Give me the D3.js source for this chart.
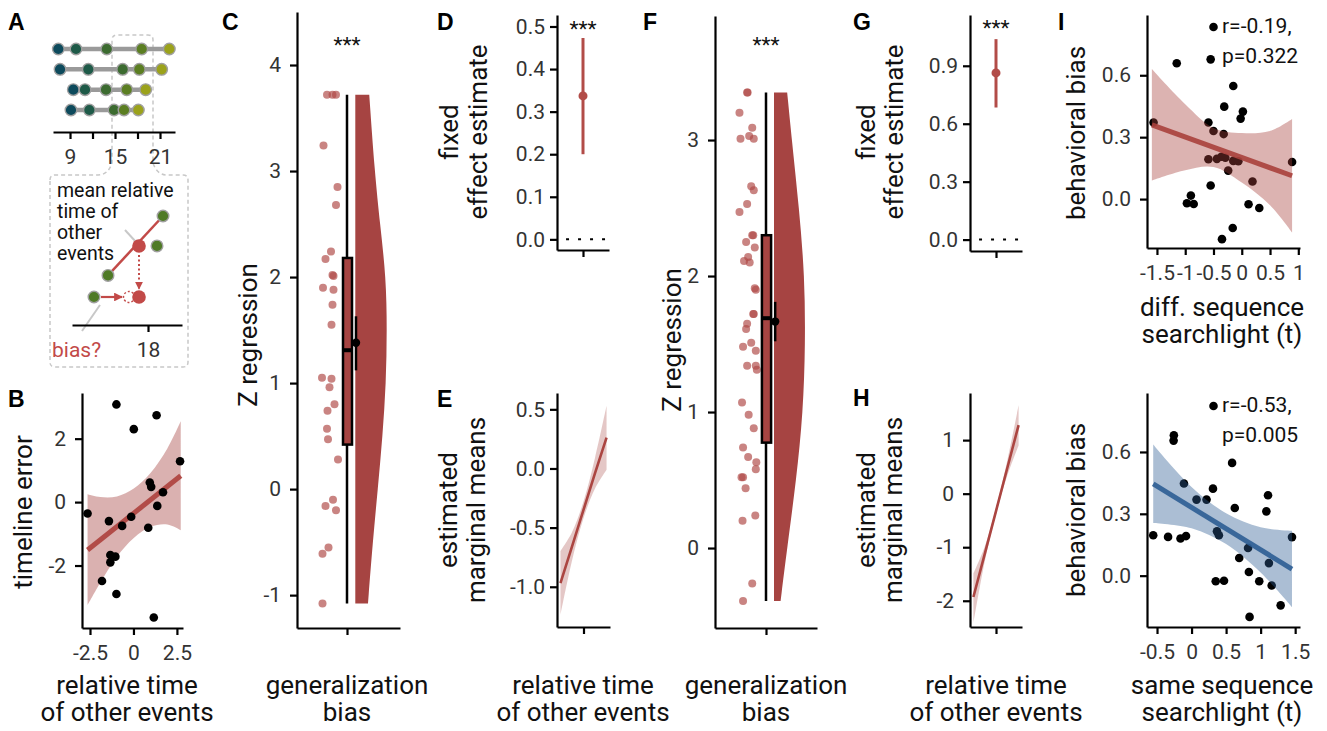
<!DOCTYPE html>
<html>
<head>
<meta charset="utf-8">
<script src="https://cdn.jsdelivr.net/npm/d3@7"></script>
<style>
  body { margin: 0; background: #fff; }
  svg text { font-family: Roboto, sans-serif; }
</style>
</head>
<body>
<svg id="fig" width="1327" height="731"></svg>
<script>
// ---- data ----
// A: event times of four example sequences
const seqTimes = [
  [7.44, 9.8, 13.9, 18.56, 22.24],
  [7.67, 11.44, 16.02, 18.24, 21.22],
  [9.44, 11.0, 13.8, 16.56, 19.09],
  [9.13, 11.58, 14.87, 16.2, 18.11]
];
const seqColors = ['#0d4a5c', '#1e5a48', '#3c6b30', '#5b7e22', '#9ba21b'];
const aTicks = [9, 12, 15, 18, 21];
const aTickLabels = [9, 15, 21];
// schematic (inset)
const schemaOtherT = [12.67, 19.2, 20.0];
const schemaOtherLvl = [0.8, 1.89, 3];
const schemaMeanT = 16.8;
const schemaEventT = 10.8;
const schemaGhostT = 15.47;
const schemaText = ['mean relative', 'time of', 'other', 'events'];

// B: timeline error vs relative time
const bX = [-2.64, -0.98, 1.33, 0.02, 2.68, 0.94, 1.02, 1.70, 1.37, 0.85, -0.13, -0.65, -1.41, -1.33, -1.04, -1.33, -1.81, -0.98, 1.17];
const bY = [-0.36, 3.08, 2.74, 2.30, 1.29, 0.62, 0.48, 0.31, -0.12, -0.81, -0.46, -0.75, -0.60, -1.67, -1.72, -1.90, -2.49, -2.90, -3.64];
const bFitX = [-2.64, 2.72];
const bFitY = [-1.51, 0.83];
const bBandX = [-2.64, -1.91, -0.95, 0.02, 0.98, 1.95, 2.72];
const bBandLo = [-3.25, -2.54, -1.72, -1.13, -0.78, -0.71, -0.89];
const bBandHi = [0.25, 0.16, 0.18, 0.43, 0.92, 1.69, 2.55];

// C: Z regression, generalization bias
const cVal = [3.72, 3.72, 3.72, 3.24, 2.85, 2.68, 2.24, 2.17, 2.02, 2.01, 1.90, 1.88, 1.74, 1.55,
  1.05, 1.04, 0.96, 0.80, 0.74, 0.57, 0.47, 0.28, -0.10, -0.16, -0.20, -0.55, -0.61, -1.08];
const cJit = [-0.40, -0.29, -0.22, -0.47, -0.19, -0.22, -0.32, -0.43, -0.29, -0.27, -0.48, -0.27, -0.29, -0.31,
  -0.50, -0.31, -0.35, -0.25, -0.39, -0.40, -0.38, -0.18, -0.28, -0.43, -0.22, -0.37, -0.49, -0.49];
const cBox = { min: -1.08, q1: 0.42, med: 1.31, q3: 2.18, max: 3.72 };
const cMean = { m: 1.38, lo: 1.12, hi: 1.63 };
const violinCY = [3.72, 3.0, 2.5, 2.0, 1.5, 1.0, 0.5, 0.0, -0.5, -1.08];
const violinCD = [0.44, 0.61, 0.78, 0.97, 1.0, 0.97, 0.86, 0.71, 0.55, 0.40];

// D / G: fixed effect estimates
const dEst = { m: 0.337, lo: 0.2, hi: 0.473 };
const gEst = { m: 0.863, lo: 0.684, hi: 1.038 };
const dTicks = [0, 0.1, 0.2, 0.3, 0.4, 0.5];
const gTicks = [0, 0.3, 0.6, 0.9];

// E / H: estimated marginal means
const emmX = [-1, -0.5, 0, 0.5, 1];
const eFit = [-0.97, -0.66, -0.35, -0.04, 0.26];
const eLo = [-1.24, -0.78, -0.42, -0.17, -0.01];
const eHi = [-0.70, -0.54, -0.28, 0.09, 0.53];
const hFit = [-1.93, -1.13, -0.325, 0.48, 1.28];
const hLo = [-2.42, -1.27, -0.385, 0.34, 0.90];
const hHi = [-1.49, -0.99, -0.265, 0.62, 1.65];
const eTicks = [-1, -0.5, 0, 0.5];
const hTicks = [-2, -1, 0, 1];

// F: Z regression, generalization bias (second analysis)
const fVal = [3.35, 3.35, 3.20, 3.09, 3.03, 3.01, 3.01, 2.66, 2.63, 2.53, 2.47, 2.30, 2.30, 2.25, 2.21, 2.14, 2.11, 2.10,
  1.91, 1.90, 1.72, 1.72, 1.65, 1.61, 1.51, 1.48, 1.45, 1.34, 1.34, 1.31, 1.07, 0.98, 0.88, 0.74, 0.67, 0.63, 0.58,
  0.52, 0.52, 0.44, 0.24, 0.20, -0.26, -0.39];
const fJit = [-0.37, -0.36, -0.52, -0.27, -0.33, -0.50, -0.24, -0.29, -0.24, -0.37, -0.52, -0.25, -0.27, -0.39, -0.22, -0.35, -0.43, -0.32,
  -0.22, -0.20, -0.24, -0.25, -0.37, -0.39, -0.29, -0.45, -0.20, -0.37, -0.20, -0.18, -0.47, -0.34, -0.24, -0.45, -0.35, -0.19, -0.20,
  -0.48, -0.45, -0.40, -0.21, -0.46, -0.27, -0.45];
const fBox = { min: -0.39, q1: 0.775, med: 1.69, q3: 2.30, max: 3.35 };
const fMean = { m: 1.665, lo: 1.52, hi: 1.81 };
const violinFY = [3.35, 3.0, 2.5, 2.0, 1.5, 1.0, 0.5, 0.0, -0.39];
const violinFD = [0.42, 0.57, 0.80, 0.98, 1.0, 0.93, 0.71, 0.42, 0.21];

// I: behavioral bias vs searchlight t
const iTopX = [-0.55, -1.15, -0.15, -0.31, 0.02, -0.02, -1.56, -0.59, -0.50, -0.32, -0.59, -0.44, -0.36, -0.29,
  -0.15, -0.06, 0.89, -0.24, 0.19, -0.55, -0.90, -0.97, -0.85, 0.12, 0.31, -0.16, -0.35];
const iTopY = [0.677, 0.658, 0.548, 0.448, 0.424, 0.39, 0.371, 0.371, 0.33, 0.315, 0.193, 0.195, 0.205, 0.20,
  0.185, 0.183, 0.18, 0.138, 0.085, 0.066, 0.017, -0.02, -0.024, -0.025, -0.043, -0.14, -0.194];
const iTopFitX = [-1.59, 0.89];
const iTopFitY = [0.36, 0.113];
const iTopBandX = [-1.59, -1.0, -0.5, 0, 0.5, 0.89];
const iTopBandLo = [0.09, 0.14, 0.155, 0.08, -0.03, -0.162];
const iTopBandHi = [0.63, 0.46, 0.345, 0.32, 0.33, 0.388];
const iBotX = [-0.256, -0.26, 0.587, -0.11, 0.31, 1.107, 0.072, 0.217, 0.626, 1.083, 0.368, 0.396, -0.555, -0.34,
  -0.16, -0.08, 1.454, 0.818, 0.69, 1.12, 0.83, 0.35, 0.47, 0.98, 1.16, 1.29, 0.84];
const iBotY = [0.681, 0.655, 0.547, 0.447, 0.422, 0.39, 0.369, 0.369, 0.328, 0.312, 0.215, 0.196, 0.196, 0.188,
  0.18, 0.192, 0.187, 0.134, 0.086, 0.061, 0.018, -0.027, -0.025, -0.027, -0.048, -0.144, -0.2];
const iBotFitX = [-0.555, 1.454];
const iBotFitY = [0.445, 0.032];
const iBotBandX = [-0.555, 0, 0.5, 1, 1.454];
const iBotBandLo = [0.256, 0.23, 0.153, 0.015, -0.152];
const iBotBandHi = [0.636, 0.43, 0.303, 0.235, 0.218];
const iTopStats = ['r=-0.19,', 'p=0.322'];
const iBotStats = ['r=-0.53,', 'p=0.005'];

// ---- styles ----
const RED = '#a64442';
const RED_LINE = '#b24c48';
const PT_RED = '#b04a47';
const BLUE = '#2c5d94';
const SCHEMA_RED = '#c24a48';
const SCHEMA_GREEN = '#4f7a26';
const TICK_FS = 21;
const TITLE_FS = 26;

const svg = d3.select('#fig');

function styleAxis(g) {
  g.select('.domain').attr('stroke', '#000').attr('stroke-width', 2.2);
  g.selectAll('.tick line').attr('stroke', '#000').attr('stroke-width', 2.2);
  g.selectAll('.tick text').attr('fill', '#333').style('font-size', TICK_FS + 'px')
    .style('font-family', 'Roboto, sans-serif');
}
function leftAxis(x0, y, ticks, fmt, pad) {
  const g = svg.append('g').attr('transform', `translate(${x0},0)`)
    .call(d3.axisLeft(y).tickValues(ticks).tickFormat(fmt || (d => String(d)))
      .tickSize(7).tickSizeOuter(0).tickPadding(pad == null ? 9 : pad));
  styleAxis(g);
  return g;
}
function bottomAxis(y0, x, ticks, fmt) {
  const g = svg.append('g').attr('transform', `translate(0,${y0})`)
    .call(d3.axisBottom(x).tickValues(ticks).tickFormat(fmt || (d => String(d)))
      .tickSize(7).tickSizeOuter(0).tickPadding(10));
  styleAxis(g);
  return g;
}
function title(x, y, lines, rot, gap) {
  const t = svg.append('text')
    .attr('transform', `translate(${x},${y})` + (rot ? ' rotate(-90)' : ''))
    .attr('text-anchor', 'middle').attr('fill', '#111').style('font-size', TITLE_FS + 'px');
  lines.forEach((l, i) => t.append('tspan').attr('x', 0).attr('y', i * (gap || 27)).text(l));
}
function panelLabel(txt, x, y) {
  svg.append('text').attr('x', x).attr('y', y).text(txt)
    .style('font-family', '"Liberation Sans", Arial, sans-serif')
    .style('font-weight', 'bold').style('font-size', '23px').attr('fill', '#000');
}
function stars(x, y) {
  svg.append('text').attr('x', x).attr('y', y).attr('text-anchor', 'middle')
    .style('font-size', '21px').attr('fill', '#111').text('***');
}
const fix1 = d => d.toFixed(1);
const zip = (a, b) => a.map((v, i) => [v, b[i]]);

// ================= A =================
const xA = d3.scaleLinear().domain([6.73, 23.0]).range([53, 175]);
const yRow = d3.scalePoint().domain([0, 1, 2, 3]).range([49, 110]);

// dashed zoom outline
svg.append('path')
  .attr('d', 'M50,180 Q50,175 55,175 L98,175 Q108,175 112,163 L112,40 Q112,35 117,35 L148,35 Q153,35 153,40 ' +
    'L153,163 Q157,175 167,175 L183,175 Q188,175 188,180 L188,362 Q188,367 183,367 L55,367 Q50,367 50,362 Z')
  .attr('fill', 'none').attr('stroke', '#c8c8c8').attr('stroke-width', 1.5).attr('stroke-dasharray', '4,3');

seqTimes.forEach((row, r) => {
  svg.append('line')
    .attr('x1', xA(d3.min(row))).attr('x2', xA(d3.max(row)))
    .attr('y1', yRow(r)).attr('y2', yRow(r))
    .attr('stroke', '#9a9a9a').attr('stroke-width', 4.5);
  svg.append('g').selectAll('circle').data(row).enter().append('circle')
    .attr('cx', d => xA(d)).attr('cy', yRow(r)).attr('r', 5.8)
    .attr('fill', (d, i) => seqColors[i]).attr('stroke', '#a0a0a0').attr('stroke-width', 1.4);
});
bottomAxis(132, xA, aTicks, d => aTickLabels.includes(d) ? String(d) : '');

// inset schematic
const xS = d3.scaleLinear().domain([7.87, 22.53]).range([72, 182]);
const yS = d3.scaleLinear().domain([0, 3]).range([297, 216]);
const defs = svg.append('defs');
defs.append('marker').attr('id', 'arrR').attr('viewBox', '0 0 10 10').attr('refX', 9).attr('refY', 5)
  .attr('markerWidth', 4).attr('markerHeight', 4).attr('orient', 'auto')
  .append('path').attr('d', 'M0,0 L10,5 L0,10 Z').attr('fill', SCHEMA_RED);

schemaText.forEach((l, i) => {
  svg.append('text').attr('x', 57).attr('y', 197 + i * 21).style('font-size', '19.5px')
    .attr('fill', '#111').text(l);
});

// callout line from text to mean
svg.append('line').attr('x1', 125).attr('y1', 230).attr('x2', xS(schemaMeanT) - 3).attr('y2', yS(1.89) - 4)
  .attr('stroke', '#c8c8c8').attr('stroke-width', 2);
svg.append('line')
  .attr('x1', xS(schemaOtherT[0])).attr('y1', yS(schemaOtherLvl[0]))
  .attr('x2', xS(schemaOtherT[2])).attr('y2', yS(schemaOtherLvl[2]))
  .attr('stroke', SCHEMA_RED).attr('stroke-width', 2.5);
svg.append('g').selectAll('circle').data(schemaOtherT).enter().append('circle')
  .attr('cx', d => xS(d)).attr('cy', (d, i) => yS(schemaOtherLvl[i])).attr('r', 5.8)
  .attr('fill', SCHEMA_GREEN).attr('stroke', '#a0a0a0').attr('stroke-width', 1.4);
svg.append('circle').attr('cx', xS(schemaMeanT)).attr('cy', yS(1.89)).attr('r', 6.8).attr('fill', SCHEMA_RED);
svg.append('line').attr('x1', xS(schemaMeanT)).attr('x2', xS(schemaMeanT))
  .attr('y1', yS(1.89) + 9).attr('y2', yS(0) - 8)
  .attr('stroke', SCHEMA_RED).attr('stroke-width', 2).attr('stroke-dasharray', '2,2.5')
  .attr('marker-end', 'url(#arrR)');
svg.append('circle').attr('cx', xS(schemaMeanT)).attr('cy', yS(0)).attr('r', 6.8).attr('fill', SCHEMA_RED);
svg.append('circle').attr('cx', xS(schemaGhostT)).attr('cy', yS(0)).attr('r', 5.5)
  .attr('fill', 'none').attr('stroke', SCHEMA_RED).attr('stroke-width', 1.4).attr('stroke-dasharray', '2,2');
svg.append('line').attr('x1', xS(schemaEventT) + 7).attr('x2', xS(schemaGhostT) - 7)
  .attr('y1', yS(0)).attr('y2', yS(0))
  .attr('stroke', SCHEMA_RED).attr('stroke-width', 2.2).attr('marker-end', 'url(#arrR)');
svg.append('circle').attr('cx', xS(schemaEventT)).attr('cy', yS(0)).attr('r', 5.8)
  .attr('fill', SCHEMA_GREEN).attr('stroke', '#a0a0a0').attr('stroke-width', 1.4);
svg.append('line').attr('x1', xS(schemaEventT) + 6).attr('y1', yS(0) + 8).attr('x2', 82).attr('y2', 331)
  .attr('stroke', '#c8c8c8').attr('stroke-width', 2);
bottomAxis(325, xS, [18]);
svg.append('text').attr('x', 52).attr('y', 357).style('font-size', '21px').attr('fill', SCHEMA_RED).text('bias?');

// ================= B =================
const xB = d3.scaleLinear().domain([-2.96, 2.85]).range([82, 183]);
const yB = d3.scaleLinear().domain([-3.97, 3.44]).range([628, 393]);
svg.append('path').datum(d3.range(bBandX.length))
  .attr('d', d3.area().x(i => xB(bBandX[i])).y0(i => yB(bBandLo[i])).y1(i => yB(bBandHi[i])).curve(d3.curveCatmullRom))
  .attr('fill', RED).attr('fill-opacity', 0.42);
svg.append('path').datum(zip(bFitX, bFitY))
  .attr('d', d3.line().x(d => xB(d[0])).y(d => yB(d[1])))
  .attr('stroke', RED_LINE).attr('stroke-width', 5).attr('fill', 'none');
svg.append('g').selectAll('circle').data(zip(bX, bY)).enter().append('circle')
  .attr('cx', d => xB(d[0])).attr('cy', d => yB(d[1])).attr('r', 4.3).attr('fill', '#000');
leftAxis(82, yB, [-2, 0, 2]);
bottomAxis(628, xB, [-2.5, 0, 2.5]);
title(32, 512, ['timeline error'], true);
title(127, 694, ['relative time', 'of other events']);

// ================= C / F (raincloud) =================
function raincloud(xSc, ySc, vals, jit, box, mean, vY, vD, vLeft, vMax) {
  svg.append('path').datum(d3.range(vY.length))
    .attr('d', d3.area().y(i => ySc(vY[i])).x0(xSc(vLeft)).x1(i => xSc(vLeft + vD[i] * vMax)).curve(d3.curveBasis))
    .attr('fill', RED);
  svg.append('g').selectAll('circle').data(vals).enter().append('circle')
    .attr('cx', (d, i) => xSc(jit[i])).attr('cy', d => ySc(d)).attr('r', 4)
    .attr('fill', PT_RED).attr('fill-opacity', 0.68);
  svg.append('line').attr('x1', xSc(0)).attr('x2', xSc(0)).attr('y1', ySc(box.min)).attr('y2', ySc(box.max))
    .attr('stroke', '#000').attr('stroke-width', 2.5);
  svg.append('rect').attr('x', xSc(-0.08)).attr('width', xSc(0.1) - xSc(-0.08))
    .attr('y', ySc(box.q3)).attr('height', ySc(box.q1) - ySc(box.q3))
    .attr('fill', RED).attr('stroke', '#000').attr('stroke-width', 2.5);
  svg.append('line').attr('x1', xSc(-0.08)).attr('x2', xSc(0.1)).attr('y1', ySc(box.med)).attr('y2', ySc(box.med))
    .attr('stroke', '#000').attr('stroke-width', 4);
  svg.append('line').attr('x1', xSc(0.18)).attr('x2', xSc(0.18)).attr('y1', ySc(mean.lo)).attr('y2', ySc(mean.hi))
    .attr('stroke', '#000').attr('stroke-width', 2.5);
  svg.append('circle').attr('cx', xSc(0.18)).attr('cy', ySc(mean.m)).attr('r', 4.2).attr('fill', '#000');
}
const xC = d3.scaleLinear().domain([-1, 1.06]).range([297, 400]);
const yC = d3.scaleLinear().domain([-1.31, 4.5]).range([628, 12]);
raincloud(xC, yC, cVal, cJit, cBox, cMean, violinCY, violinCD, 0.166, 0.634);
leftAxis(297, yC, [-1, 0, 1, 2, 3, 4]);
bottomAxis(628, xC, [0], () => '');
stars(xC(0), 52);
title(257, 335, ['Z regression'], true);
title(xC(0), 694, ['generalization', 'bias']);

const xF = d3.scaleLinear().domain([-1, 1]).range([715, 817]);
const yF = d3.scaleLinear().domain([-0.588, 3.912]).range([628, 16]);
raincloud(xF, yF, fVal, fJit, fBox, fMean, violinFY, violinFD, 0.157, 0.614);
leftAxis(715, yF, [0, 1, 2, 3]);
bottomAxis(628, xF, [0], () => '');
stars(xF(0), 52);
title(681, 340, ['Z regression'], true);
title(xF(0), 694, ['generalization', 'bias']);

// ================= D / G (fixed effects) =================
function fixedEffect(xSc, ySc, est, ticks, x0, y0, starY) {
  svg.append('line').attr('x1', xSc(-0.75)).attr('x2', xSc(1.15)).attr('y1', ySc(0)).attr('y2', ySc(0))
    .attr('stroke', '#000').attr('stroke-width', 2).attr('stroke-dasharray', '3,9');
  svg.append('line').attr('x1', xSc(0)).attr('x2', xSc(0)).attr('y1', ySc(est.lo)).attr('y2', ySc(est.hi))
    .attr('stroke', RED_LINE).attr('stroke-width', 3);
  svg.append('circle').attr('cx', xSc(0)).attr('cy', ySc(est.m)).attr('r', 4.5).attr('fill', RED_LINE);
  leftAxis(x0, ySc, ticks, fix1, 5);
  bottomAxis(y0, xSc, [0], () => '');
  stars(xSc(0), starY);
}
const xD = d3.scaleLinear().domain([-1.15, 1.15]).range([557, 609]);
const yD = d3.scaleLinear().domain([-0.025, 0.527]).range([250, 15]);
fixedEffect(xD, yD, dEst, dTicks, 557, 250, 36);
title(458, 132, ['fixed', 'effect estimate'], true, 29);

const xG = d3.scaleLinear().domain([-1.15, 1.15]).range([970, 1022]);
const yG = d3.scaleLinear().domain([-0.059, 1.163]).range([251, 15]);
fixedEffect(xG, yG, gEst, gTicks, 970, 251, 35);
title(875, 132, ['fixed', 'effect estimate'], true, 28);

// ================= E / H (marginal means) =================
function emm(xSc, ySc, fit, lo, hi, ticks, fmt, x0, y0) {
  svg.append('path').datum(d3.range(emmX.length))
    .attr('d', d3.area().x(i => xSc(emmX[i])).y0(i => ySc(lo[i])).y1(i => ySc(hi[i])).curve(d3.curveCatmullRom))
    .attr('fill', RED).attr('fill-opacity', 0.3);
  svg.append('path').datum(d3.range(emmX.length))
    .attr('d', d3.line().x(i => xSc(emmX[i])).y(i => ySc(fit[i])))
    .attr('stroke', '#ab4541').attr('stroke-width', 2.6).attr('fill', 'none');
  leftAxis(x0, ySc, ticks, fmt, x0 < 700 ? 5 : 9);
  bottomAxis(y0, xSc, [0], () => '');
}
const xE = d3.scaleLinear().domain([-1.15, 1.15]).range([557, 610]);
const yE = d3.scaleLinear().domain([-1.34, 0.638]).range([627, 393]);
emm(xE, yE, eFit, eLo, eHi, eTicks, fix1, 557, 627);
title(457, 510, ['estimated', 'marginal means'], true, 28);
title(583, 694, ['relative time', 'of other events']);

const xH = d3.scaleLinear().domain([-1.15, 1.15]).range([970, 1022]);
const yH = d3.scaleLinear().domain([-2.49, 1.88]).range([627, 393]);
emm(xH, yH, hFit, hLo, hHi, hTicks, d => String(d), 970, 627);
title(875, 510, ['estimated', 'marginal means'], true, 27);
title(996, 694, ['relative time', 'of other events']);

// ================= I (correlations) =================
function corrPanel(xSc, ySc, px, py, fitX, fitY, bandX, bandLo, bandHi, col, xTicks, stats, y0) {
  svg.append('g').selectAll('circle').data(zip(px, py)).enter().append('circle')
    .attr('cx', d => xSc(d[0])).attr('cy', d => ySc(d[1])).attr('r', 4.3).attr('fill', '#000');
  svg.append('path').datum(d3.range(bandX.length))
    .attr('d', d3.area().x(i => xSc(bandX[i])).y0(i => ySc(bandLo[i])).y1(i => ySc(bandHi[i])).curve(d3.curveCatmullRom))
    .attr('fill', col).attr('fill-opacity', 0.4);
  svg.append('path').datum(zip(fitX, fitY))
    .attr('d', d3.line().x(d => xSc(d[0])).y(d => ySc(d[1])))
    .attr('stroke', col).attr('stroke-width', 5).attr('stroke-opacity', 0.9).attr('fill', 'none');
  leftAxis(1147, ySc, [0, 0.3, 0.6], fix1);
  bottomAxis(y0, xSc, xTicks);
  // stats annotation
  svg.append('circle').attr('cx', 1213.5).attr('cy', y0 - 221).attr('r', 4.3).attr('fill', '#000');
  svg.append('text').attr('x', 1222).attr('y', y0 - 215).style('font-size', '21px').attr('fill', '#111').text(stats[0]);
  svg.append('text').attr('x', 1222).attr('y', y0 - 185).style('font-size', '21px').attr('fill', '#111').text(stats[1]);
}
const xIt = d3.scaleLinear().domain([-1.676, 1.03]).range([1147, 1300]);
const yIt = d3.scaleLinear().domain([-0.237, 0.892]).range([248, 15]);
corrPanel(xIt, yIt, iTopX, iTopY, iTopFitX, iTopFitY, iTopBandX, iTopBandLo, iTopBandHi, '#a8403c',
  [-1.5, -1, -0.5, 0, 0.5, 1], iTopStats, 248);
title(1085, 133, ['behavioral bias'], true);
title(1222, 316, ['diff. sequence', 'searchlight (t)']);

const xIb = d3.scaleLinear().domain([-0.645, 1.57]).range([1147, 1300]);
const yIb = d3.scaleLinear().domain([-0.249, 0.886]).range([627, 393]);
corrPanel(xIb, yIb, iBotX, iBotY, iBotFitX, iBotFitY, iBotBandX, iBotBandLo, iBotBandHi, BLUE,
  [-0.5, 0, 0.5, 1, 1.5], iBotStats, 627);
title(1085, 510, ['behavioral bias'], true);
title(1222, 694, ['same sequence', 'searchlight (t)']);

// ---- panel letters ----
panelLabel('A', 8, 30);
panelLabel('B', 8, 407);
panelLabel('C', 222, 30);
panelLabel('D', 437, 30);
panelLabel('E', 437, 407);
panelLabel('F', 643, 30);
panelLabel('G', 853, 30);
panelLabel('H', 853, 406);
panelLabel('I', 1058, 30);
</script>
</body>
</html>
